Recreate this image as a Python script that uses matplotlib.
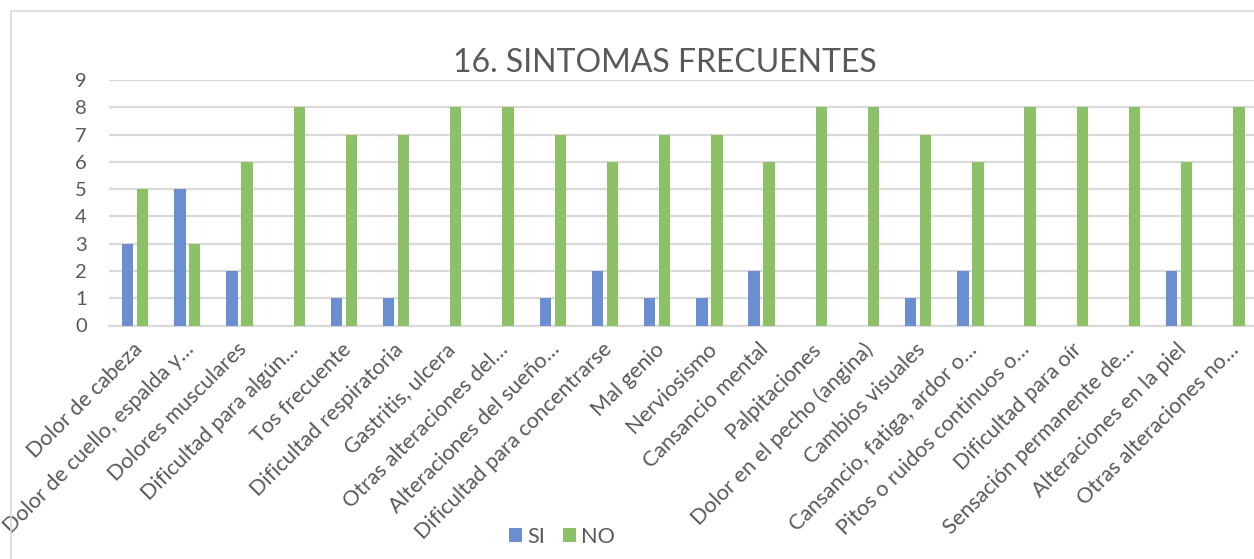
import matplotlib
matplotlib.use("Agg")
import matplotlib.pyplot as plt
import matplotlib.transforms as mtransforms
from matplotlib.patches import Rectangle
import numpy as np

plt.rcParams['font.family'] = ['Lato', 'DejaVu Sans']

categories = [
    "Dolor de cabeza",
    "Dolor de cuello, espalda y…",
    "Dolores musculares",
    "Dificultad para algún…",
    "Tos frecuente",
    "Dificultad respiratoria",
    "Gastritis, ulcera",
    "Otras alteraciones del…",
    "Alteraciones del sueño…",
    "Dificultad para concentrarse",
    "Mal genio",
    "Nerviosismo",
    "Cansancio mental",
    "Palpitaciones",
    "Dolor en el pecho (angina)",
    "Cambios visuales",
    "Cansancio, fatiga, ardor o…",
    "Pitos o ruidos continuos o…",
    "Dificultad para oír",
    "Sensación permanente de…",
    "Alteraciones en la piel",
    "Otras alteraciones no…",
]
si = [3, 5, 2, 0, 1, 1, 0, 0, 1, 2, 1, 1, 2, 0, 0, 1, 2, 0, 0, 0, 2, 0]
no = [5, 3, 6, 8, 7, 7, 8, 8, 7, 6, 7, 7, 6, 8, 8, 7, 6, 8, 8, 8, 6, 8]
yticks = list(range(0, 10))

blue = "#6A8ED0"
green = "#8CC168"
grid = "#D9D9D9"
txt = "#595959"

W, H = 1254, 559
fig = plt.figure(figsize=(W / 100, H / 100), dpi=100)

# outer chart frame (cropped on right/bottom)
fig.patches.append(Rectangle((11 / W, -0.05), 1.2, 1 - 11 / H + 0.05,
                             transform=fig.transFigure, fill=False,
                             edgecolor=grid, linewidth=1.2))

ax = fig.add_axes([109 / W, (H - 325.5) / H, (1257.6 - 109) / W, (325.5 - 80) / H])

x = np.arange(len(categories))
bw = 0.217
off = 0.143
ax.bar(x - off, si, width=bw, color=blue, label="SI", zorder=3)
ax.bar(x + off, no, width=bw, color=green, label="NO", zorder=3)

ax.set_xlim(-0.5, len(categories) - 0.5)
ax.set_ylim(0, 9)
ax.set_yticks(yticks)
ax.yaxis.grid(True, color=grid, linewidth=1.6, zorder=0)
ax.set_axisbelow(True)
for s in ["top", "right", "left"]:
    ax.spines[s].set_visible(False)
ax.spines["bottom"].set_color(grid)
ax.spines["bottom"].set_linewidth(1.6)

ax.tick_params(axis="y", length=0, pad=16, labelsize=14.5, labelcolor=txt)
ax.tick_params(axis="x", length=0, pad=15, labelsize=15.6, labelcolor=txt)

ax.set_xticks(x)
ax.set_xticklabels(categories, rotation=45, ha="right", va="center",
                   rotation_mode="anchor")
shift = mtransforms.ScaledTranslation(4 / 100, 0, fig.dpi_scale_trans)
for lab in ax.get_xticklabels():
    lab.set_transform(lab.get_transform() + shift)

fig.text(665 / W, (H - 63) / H, "16. SINTOMAS FRECUENTES", ha="center",
         va="center", fontsize=23, color=txt)

fig.legend(loc="center", bbox_to_anchor=(562 / W, 22 / H), ncol=2,
           frameon=False, fontsize=15.6, labelcolor=txt, handlelength=0.6,
           handleheight=0.6, handletextpad=0.25, columnspacing=0.8)

fig.savefig("out.png", dpi=100)
